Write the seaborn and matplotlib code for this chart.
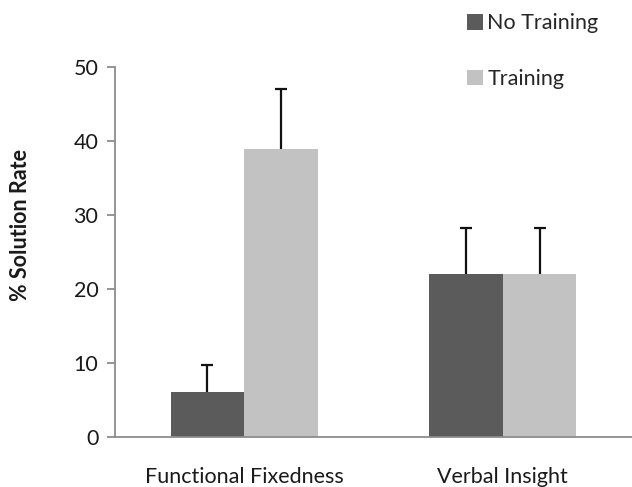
import matplotlib
matplotlib.use("Agg")
import matplotlib.pyplot as plt
import seaborn as sns
import pandas as pd

tasks = ["Functional Fixedness", "Verbal Insight"]
groups = ["No Training", "Training"]
no_training = [6, 22]
training = [39, 22]
no_training_err = [3.7, 6.2]
training_err = [8.0, 6.2]
colours = ["#5b5b5b", "#c2c2c2"]

df = pd.DataFrame({
    "task": tasks * 2,
    "group": [groups[0]] * 2 + [groups[1]] * 2,
    "rate": no_training + training,
})

sns.set_style("white")
plt.rcParams["font.family"] = ["Lato", "DejaVu Sans"]

fig = plt.figure(figsize=(6.32, 4.87), dpi=100)
ax = fig.add_axes([0.182, 0.103, 0.818, 0.759])

sns.barplot(data=df, x="task", y="rate", hue="group", order=tasks,
            hue_order=groups, palette=colours, width=0.57, saturation=1,
            errorbar=None, ax=ax, edgecolor="none")

# upward-only error bars at the centre of each bar
errs = no_training_err + training_err
vals = no_training + training
for patch, v, e in zip(ax.patches[:4], vals, errs):
    cx = patch.get_x() + patch.get_width() / 2
    _, caps, _ = ax.errorbar(cx, v, yerr=[[0], [e]], fmt="none", ecolor="#111111",
                             elinewidth=1.6, capsize=4, capthick=1.6, zorder=3)
    caps[0].set_visible(False)

ax.set_xlim(-0.5, 1.5)
ax.set_ylim(0, 50)
ax.set_yticks([0, 10, 20, 30, 40, 50])
ax.set_xlabel("")
ax.set_ylabel("")
sns.despine(ax=ax)
for s in ["left", "bottom"]:
    ax.spines[s].set_color("#8c8c8c")
    ax.spines[s].set_linewidth(1.3)
ax.set_xticks([-0.5, 0.5, 1.5], minor=True)
ax.tick_params(axis="x", which="major", length=0, pad=22, labelsize=15.5, labelcolor="#1a1a1a")
ax.tick_params(axis="x", which="minor", length=8, width=1.3, color="#8c8c8c", direction="out")
ax.tick_params(axis="y", length=6, width=1.3, color="#8c8c8c", direction="out",
               left=True, labelsize=15.5, labelcolor="#1a1a1a", pad=6)

fig.text(0.032, 1 - 225 / 487, "% Solution Rate", rotation=90, ha="center",
         va="center", fontsize=15.5, fontweight="bold", color="#1a1a1a")

handles = ax.get_legend().legend_handles
ax.get_legend().remove()
fig.legend(handles, groups, loc="upper left", bbox_to_anchor=(0.725, 0.99),
           frameon=False, fontsize=15.5, handlelength=0.75, handleheight=0.75,
           handletextpad=0.2, labelspacing=1.65, borderaxespad=0)

fig.savefig("out.png", dpi=100)
